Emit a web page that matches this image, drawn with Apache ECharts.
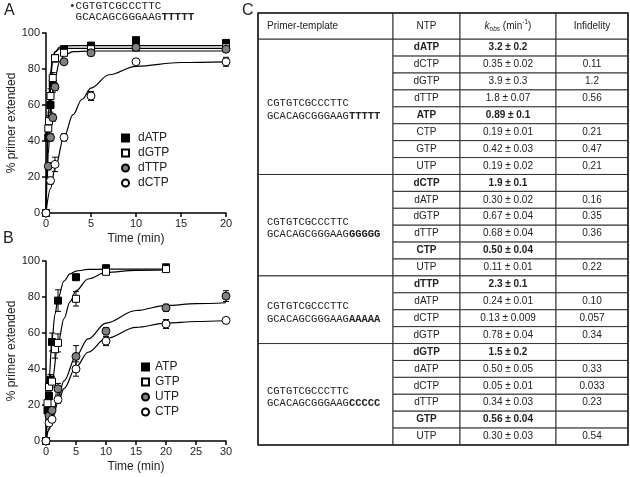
<!DOCTYPE html>
<html><head><meta charset="utf-8">
<script src="https://cdn.jsdelivr.net/npm/echarts@6/dist/echarts.min.js"></script>
<style>html,body{margin:0;padding:0;background:#fff}#c{width:630px;height:477px}</style>
</head><body><div id="c"></div>
<script>
// ---------- Panel A data (time in min, % primer extended) ----------
const namesA = ['dATP','dGTP','dTTP','dCTP'];
const tA_dATP = [0,0.25,0.33,0.5,0.75,1,2,5,10,20];
const vA_dATP = [0,42,42,60,72,86,91,93,96,94.5];
const eA_dATP = [0,2,2,4,5,2,1,1,1,1.5];
const tA_dGTP = [0,0.25,0.33,0.5,0.75,1,2,5,10,20];
const vA_dGTP = [0,47,51,65,75,86,89,91,92,92];
const eA_dGTP = [0,2,3,4,3,2,1,1,1,1];
const tA_dTTP = [0,0.25,0.5,0.75,1,2,5,10,20];
const vA_dTTP = [0,26,42,53,70,84,89,92,91];
const eA_dTTP = [0,2,2,2,2,1,1,1,1];
const tA_dCTP = [0,0.5,1,2,5,10,20];
const vA_dCTP = [0,18,27,42,65,84,84];
const eA_dCTP = [0,2,4,2,2.5,1,2.5];
// fitted curves
const ftA_dATP = [0,0.1,0.25,0.5,0.75,1,1.5,2,3,5,10,20];
const fvA_dATP = [0,25.5,51.2,74.2,84.6,89.2,92.2,92.8,93,93,93,93];
const ftA_dGTP = [0,0.1,0.25,0.5,0.75,1,1.5,2,3,5,10,20];
const fvA_dGTP = [0,29.5,57,78.5,86.6,89.7,91.2,91.5,91.5,91.5,91.5,91.5];
const ftA_dTTP = [0,0.1,0.25,0.5,0.75,1,1.5,2,3,5,10,20];
const fvA_dTTP = [0,14.8,32.6,53.4,66.7,75.1,84,87.5,89.6,90,90,90];
const ftA_dCTP = [0,0.5,1,2,3,4,5,7,10,15,20];
const fvA_dCTP = [0,13.5,24.8,42.3,54.6,63.2,69.4,76.8,81.5,83.6,84];

// ---------- Panel B data ----------
const namesB = ['ATP','GTP','UTP','CTP'];
const tB_ATP = [0,0.25,0.5,0.75,1,2,5,10,20];
const vB_ATP = [0,17,25,34,55,78,91,96,96.5];
const eB_ATP = [0,1,2,3,5,6,1,1,1];
const tB_GTP = [0,0.25,0.5,1,1.5,2,5,10,20];
const vB_GTP = [0,21,30,33,51,54.5,79,94,95.5];
const eB_GTP = [0,1,3,3,5,5,4,1,1];
const tB_UTP = [0,0.5,1,2,5,10,20,30];
const vB_UTP = [0,14,17,29,47,61,74,80.5];
const eB_UTP = [0,1,2,3,6,2,2,3];
const tB_CTP = [0,0.5,1,2,5,10,20,30];
const vB_CTP = [0,10,12,23,40,55.5,65,67];
const eB_CTP = [0,1,1,2,4,2.5,2.5,1];
const ftB_ATP = [0,0.5,1,1.5,2,3,4,5,7,10,20];
const fvB_ATP = [0,34.3,56.3,70.4,79.4,88.9,92.8,94.4,95.3,95.5,95.5];
const ftB_GTP = [0,0.5,1,2,3,4,5,7,10,15,20];
const fvB_GTP = [0,18,32.6,54,68,77.3,83.4,90,93.6,94.8,95];
const ftB_UTP = [0,0.5,1,2,3,5,7,10,15,20,25,30];
const fvB_UTP = [0,7,13.3,24.3,33.4,47.2,56.7,65.5,72.5,75.3,76.3,76.8];
const ftB_CTP = [0,0.5,1,2,3,5,7,10,15,20,25,30];
const fvB_CTP = [0,6.1,11.6,21.2,29.1,41.1,49.3,57,63.1,65.5,66.4,66.8];

// axis ticks
const xTicksA = [0,5,10,15,20];
const xTicksB = [0,5,10,15,20,25,30];
const yTicks = [0,20,40,60,80,100];

// ---------- Panel C table data ----------
const primerTop = 'CGTGTCGCCCTTC';
const templateBase = 'GCACAGCGGGAAG';
const templateTails = ['TTTTT','GGGGG','AAAAA','CCCCC'];
const headerCols = ['Primer-template','NTP','kobs','Infidelity'];
const ntpGroups = [
  ['dATP','dCTP','dGTP','dTTP','ATP','CTP','GTP','UTP'],
  ['dCTP','dATP','dGTP','dTTP','CTP','UTP'],
  ['dTTP','dATP','dCTP','dGTP'],
  ['dGTP','dATP','dCTP','dTTP','GTP','UTP']
];
const kobsGroups = [
  ['3.2 ± 0.2','0.35 ± 0.02','3.9 ± 0.3','1.8 ± 0.07','0.89 ± 0.1','0.19 ± 0.01','0.42 ± 0.03','0.19 ± 0.02'],
  ['1.9 ± 0.1','0.30 ± 0.02','0.67 ± 0.04','0.68 ± 0.04','0.50 ± 0.04','0.11 ± 0.01'],
  ['2.3 ± 0.1','0.24 ± 0.01','0.13 ± 0.009','0.78 ± 0.04'],
  ['1.5 ± 0.2','0.50 ± 0.05','0.05 ± 0.01','0.34 ± 0.03','0.56 ± 0.04','0.30 ± 0.03']
];
const infidelityGroups = [
  ['','0.11','1.2','0.56','','0.21','0.47','0.21'],
  ['','0.16','0.35','0.36','','0.22'],
  ['','0.10','0.057','0.34'],
  ['','0.33','0.033','0.23','','0.54']
];

// ---------- build ----------
const FONT = "'Liberation Sans', Arial, sans-serif";
const MONO = "'Liberation Mono', 'Courier New', monospace";
const styleOf = {
  dATP:{symbol:'rect',fill:'#000'}, ATP:{symbol:'rect',fill:'#000'},
  dGTP:{symbol:'rect',fill:'#fff'}, GTP:{symbol:'rect',fill:'#fff'},
  dTTP:{symbol:'circle',fill:'#808080'}, UTP:{symbol:'circle',fill:'#808080'},
  dCTP:{symbol:'circle',fill:'#fff'}, CTP:{symbol:'circle',fill:'#fff'}
};
const zip = (a,b)=>a.map((x,i)=>[x,b[i]]);
const zip3 = (a,b,c)=>a.map((x,i)=>[x,b[i],c[i]]);

function errRender(params, api){
  const t=api.value(0), v=api.value(1), e=api.value(2);
  if(!(e>0)) return null;
  const hi=api.coord([t,Math.min(v+e,105)]), lo=api.coord([t,Math.max(v-e,0)]);
  const st={stroke:'#000',lineWidth:1};
  return {type:'group',children:[
    {type:'line',shape:{x1:hi[0],y1:hi[1],x2:lo[0],y2:lo[1]},style:st},
    {type:'line',shape:{x1:hi[0]-3,y1:hi[1],x2:hi[0]+3,y2:hi[1]},style:st},
    {type:'line',shape:{x1:lo[0]-3,y1:lo[1],x2:lo[0]+3,y2:lo[1]},style:st}
  ]};
}

const series = [];
function addPanel(gi, names, pts, fits){
  names.forEach((n,i)=>{
    series.push({type:'line',name:'fit-'+n,xAxisIndex:gi,yAxisIndex:gi,data:fits[i],
      showSymbol:false,smooth:0.35,smoothMonotone:'x',clip:false,silent:true,z:1,
      lineStyle:{color:'#000',width:1.2}});
  });
  names.forEach((n,i)=>{
    series.push({type:'custom',name:'err-'+n,xAxisIndex:gi,yAxisIndex:gi,data:pts[i].err,
      renderItem:errRender,clip:false,silent:true,z:2});
  });
  names.forEach((n,i)=>{
    const s=styleOf[n];
    series.push({type:'scatter',name:n,xAxisIndex:gi,yAxisIndex:gi,data:pts[i].xy,
      symbol:s.symbol,symbolSize:s.symbol==='rect'?7:8,clip:false,z:3,
      itemStyle:{color:s.fill,borderColor:'#000',borderWidth:1,opacity:1}});
  });
}
addPanel(0,namesA,[
  {xy:zip(tA_dATP,vA_dATP),err:zip3(tA_dATP,vA_dATP,eA_dATP)},
  {xy:zip(tA_dGTP,vA_dGTP),err:zip3(tA_dGTP,vA_dGTP,eA_dGTP)},
  {xy:zip(tA_dTTP,vA_dTTP),err:zip3(tA_dTTP,vA_dTTP,eA_dTTP)},
  {xy:zip(tA_dCTP,vA_dCTP),err:zip3(tA_dCTP,vA_dCTP,eA_dCTP)}
],[zip(ftA_dATP,fvA_dATP),zip(ftA_dGTP,fvA_dGTP),zip(ftA_dTTP,fvA_dTTP),zip(ftA_dCTP,fvA_dCTP)]);
addPanel(1,namesB,[
  {xy:zip(tB_ATP,vB_ATP),err:zip3(tB_ATP,vB_ATP,eB_ATP)},
  {xy:zip(tB_GTP,vB_GTP),err:zip3(tB_GTP,vB_GTP,eB_GTP)},
  {xy:zip(tB_UTP,vB_UTP),err:zip3(tB_UTP,vB_UTP,eB_UTP)},
  {xy:zip(tB_CTP,vB_CTP),err:zip3(tB_CTP,vB_CTP,eB_CTP)}
],[zip(ftB_ATP,fvB_ATP),zip(ftB_GTP,fvB_GTP),zip(ftB_UTP,fvB_UTP),zip(ftB_CTP,fvB_CTP)]);

// table cells
const colEdges = [0,135,202,298,370];
const HEAD = -1.55;
const cells = [];
headerCols.forEach((h,c)=>cells.push({col:c,r0:HEAD,r1:0,kind:c===2?'kobs':'head',text:h,align:c===0?'left':'center'}));
let r = 0;
ntpGroups.forEach((g,gi)=>{
  cells.push({col:0,r0:r,r1:r+g.length,kind:'seq',
    text:primerTop+'\n'+templateBase+'{b|'+templateTails[gi]+'}',align:'left'});
  g.forEach((ntp,i)=>{
    const bold = infidelityGroups[gi][i]==='';
    cells.push({col:1,r0:r+i,r1:r+i+1,kind:'cell',text:ntp,bold,align:'center'});
    cells.push({col:2,r0:r+i,r1:r+i+1,kind:'cell',text:kobsGroups[gi][i],bold,align:'center'});
    cells.push({col:3,r0:r+i,r1:r+i+1,kind:'cell',text:infidelityGroups[gi][i],bold,align:'center'});
  });
  r += g.length;
});
const totalRows = r;
cells.push({col:0,colEnd:4,r0:HEAD,r1:totalRows,kind:'frame'});

function cellRender(params, api){
  const c = cells[params.dataIndex];
  const p0 = api.coord([colEdges[c.col], c.r0]);
  const p1 = api.coord([colEdges[c.colEnd!==undefined?c.colEnd:c.col+1], c.r1]);
  const x=p0[0], y=Math.min(p0[1],p1[1]), w=p1[0]-p0[0], h=Math.abs(p1[1]-p0[1]);
  if(c.kind==='frame'){
    return {type:'rect',shape:{x,y,width:w,height:h},style:{fill:null,stroke:'#222',lineWidth:1.6},z2:10};
  }
  const children=[{type:'rect',shape:{x,y,width:w,height:h},style:{fill:'#fff',stroke:'#333',lineWidth:1}}];
  const tx = c.align==='left' ? x+9 : x+w/2;
  let st;
  if(c.kind==='seq'){
    st={text:c.text,x:tx,y:y+h/2+3,align:'left',verticalAlign:'middle',
      font:'10.5px '+MONO,fill:'#222',lineHeight:12.5,
      rich:{b:{font:'bold 10.5px '+MONO,fill:'#222',lineHeight:12.5}}};
  } else if(c.kind==='kobs'){
    st={text:'{k|k}{s|obs}{n| (min}{p|-1}{n|)}',x:tx,y:y+h/2,align:'center',verticalAlign:'middle',
      rich:{k:{font:'italic 10px '+FONT,fill:'#222',lineHeight:14},
            s:{font:'italic 6.5px '+FONT,fill:'#222',verticalAlign:'bottom',lineHeight:14,padding:[4,0,0,0]},
            n:{font:'10px '+FONT,fill:'#222',lineHeight:14},
            p:{font:'6.5px '+FONT,fill:'#222',verticalAlign:'top',lineHeight:14,padding:[0,0,5,0]}}};
  } else {
    st={text:c.text,x:tx,y:y+h/2,align:c.align,verticalAlign:'middle',
      font:(c.bold?'bold ':'')+'10px '+FONT,fill:'#222'};
  }
  children.push({type:'text',style:st});
  return {type:'group',children};
}
series.push({type:'custom',name:'table',xAxisIndex:2,yAxisIndex:2,coordinateSystem:'cartesian2d',
  data:cells.map(c=>[(colEdges[c.col]+colEdges[c.colEnd!==undefined?c.colEnd:c.col+1])/2,(c.r0+c.r1)/2]),
  renderItem:cellRender,clip:false,silent:true,z:1});

const axisCommon = {
  axisLine:{show:true,onZero:false,lineStyle:{color:'#000',width:1.5}},
  axisTick:{show:true,length:4,lineStyle:{color:'#000',width:1.5}},
  splitLine:{show:false},
  nameTextStyle:{fontSize:12,color:'#222',fontFamily:FONT}
};
function xAx(gi,max,ticks){
  return Object.assign({},axisCommon,{type:'value',gridIndex:gi,min:0,max:max,interval:ticks[1]-ticks[0],
    name:'Time (min)',nameLocation:'middle',nameGap:20,
    axisLabel:{fontSize:11,color:'#222',margin:5,fontFamily:FONT}});
}
function yAx(gi){
  return Object.assign({},axisCommon,{type:'value',gridIndex:gi,min:0,max:100,interval:yTicks[1]-yTicks[0],
    name:'% primer extended',nameLocation:'middle',nameGap:28,nameRotate:90,
    axisLabel:{fontSize:11,color:'#222',margin:6,fontFamily:FONT}});
}

const option = {
  animation:false,
  backgroundColor:'#fff',
  textStyle:{fontFamily:FONT},
  grid:[
    {left:46,top:33,width:180,height:180},
    {left:46,top:261,width:180,height:180},
    {left:258,top:13,width:370,height:432}
  ],
  xAxis:[xAx(0,20,xTicksA),xAx(1,30,xTicksB),
    {type:'value',gridIndex:2,min:0,max:370,show:false}],
  yAxis:[yAx(0),yAx(1),
    {type:'value',gridIndex:2,min:HEAD,max:totalRows,inverse:true,show:false}],
  legend:[
    {data:namesA,orient:'vertical',left:116,top:127,itemWidth:7,itemHeight:7,itemGap:3,
      textStyle:{fontSize:12,color:'#222',fontFamily:FONT,padding:[0,0,0,4]}},
    {data:namesB,orient:'vertical',left:136,top:356,itemWidth:7,itemHeight:7,itemGap:3,
      textStyle:{fontSize:12,color:'#222',fontFamily:FONT,padding:[0,0,0,1]}}
  ],
  graphic:[
    {type:'text',left:4,top:3,style:{text:'A',font:'16px '+FONT,fill:'#222'}},
    {type:'text',left:3,top:231,style:{text:'B',font:'16px '+FONT,fill:'#222'}},
    {type:'text',left:242,top:3,style:{text:'C',font:'16px '+FONT,fill:'#222'}},
    {type:'text',left:69,top:0,style:{text:'•'+primerTop+'\n '+templateBase+'{b|'+templateTails[0]+'}',
      font:'11px '+MONO,fill:'#222',lineHeight:11.5,
      rich:{b:{font:'bold 11px '+MONO,fill:'#222',lineHeight:11.5}}}}
  ],
  series:series
};
const chart = echarts.init(document.getElementById('c'),null,{renderer:'canvas'});
chart.setOption(option);
</script></body></html>
